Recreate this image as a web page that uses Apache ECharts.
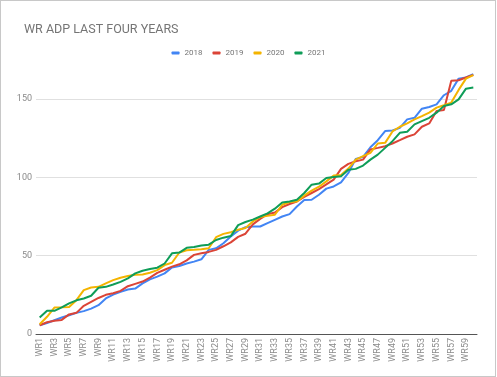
<!DOCTYPE html>
<html>
<head>
<meta charset="utf-8">
<script src="https://cdn.jsdelivr.net/npm/echarts@6/dist/echarts.min.js"></script>
<style>
  html, body { margin: 0; padding: 0; background: #fff; }
  #chart { position: absolute; left: 0; top: 0; width: 497px; height: 377px; }
  #frame { position: absolute; left: 0; top: 0; width: 496px; height: 377px; box-sizing: border-box; border: 1px solid #c8c8c8; pointer-events: none; }
</style>
</head>
<body>
<div id="chart"></div>
<div id="frame"></div>
<script>
var categories = [];
for (var i = 1; i <= 60; i++) categories.push('WR' + i);

var years = ['2018', '2019', '2020', '2021'];
var colors = ['#4285F4', '#DB4437', '#F4B400', '#0F9D58'];

var adp2018 = [5.6, 7, 8.8, 10.5, 12, 13.5, 14.6, 16.2, 18.4, 22.7,
  25.2, 26.9, 28.4, 29, 32.3, 34.9, 36.6, 38.7, 42.5, 43.4,
  45, 46.2, 47.7, 53.7, 54.7, 57.9, 62.2, 66, 68.2, 68.6,
  68.6, 70.8, 72.9, 75, 76.5, 81.4, 85.5, 85.7, 88.9, 92.8,
  94.2, 96.8, 102.8, 111.8, 113, 119.2, 123.7, 129.5, 129.9, 131.6,
  137, 138, 143.8, 144.9, 146.6, 152.4, 155.2, 163, 163.7, 165.8];
var adp2019 = [5.6, 7.5, 8.5, 9, 12.5, 13.5, 18, 20.5, 23, 25,
  26, 27.5, 30.5, 32, 33.5, 36, 39, 41, 43, 44.5,
  47, 50.5, 51.5, 52.4, 53.7, 56, 58.5, 62, 64, 70,
  73.5, 76.5, 77.5, 81, 83, 84.6, 87.5, 90, 92.5, 95.5,
  98.5, 105.4, 108.6, 110.3, 111.3, 117.8, 118.8, 119.9, 121.6, 123.7,
  125.9, 127.4, 132.3, 134.4, 142.3, 143, 161.6, 162, 163.7, 165.4];
var adp2020 = [6.2, 11, 16.9, 17, 17.3, 21.6, 28, 29.7, 30.1, 32.3,
  34.4, 35.9, 37, 37.8, 38, 39.1, 40.8, 44, 45.5, 52,
  53.5, 53.7, 54.1, 54.7, 61.8, 63.9, 65, 66.5, 67.6, 71.8,
  74.6, 75.4, 76.1, 82.5, 84.2, 84.6, 88.3, 91.5, 94, 97.4,
  101.1, 101.5, 105.6, 111.3, 113.5, 115.6, 121.6, 122, 129.3, 132.3,
  134.4, 137, 139.1, 141.3, 144.5, 146, 147.7, 155.8, 163, 165.2];
var adp2021 = [10.5, 14.8, 14.8, 17, 19.5, 21.5, 22.7, 24.4, 29.5, 30.1,
  31.6, 33.3, 35.5, 38.7, 40.4, 41.5, 42.3, 45, 51.5, 52,
  55, 55.5, 56.5, 57, 60, 61.5, 62.5, 69.5, 71.5, 73,
  75, 77, 80, 84, 84.6, 85.7, 90, 95.3, 96, 99.6,
  100.2, 100.7, 104.9, 105.4, 107.5, 111.3, 114.5, 118.8, 123.1, 128.4,
  129.1, 133.8, 135.9, 138, 141.3, 145.5, 146.6, 149.8, 156.6, 157.3];

var seriesData = [adp2018, adp2019, adp2020, adp2021];

var myChart = echarts.init(document.getElementById('chart'));
var option = {
  animation: false,
  color: colors,
  title: {
    text: 'WR ADP LAST FOUR YEARS',
    left: 19,
    top: 18,
    textStyle: { fontFamily: 'Roboto', fontSize: 12.5, fontWeight: 'normal', color: '#757575' }
  },
  legend: {
    data: years,
    top: 44,
    left: 'center',
    icon: 'roundRect',
    itemWidth: 8,
    itemHeight: 3,
    itemGap: 10,
    textStyle: { fontFamily: 'Roboto', fontSize: 8, color: '#757575' }
  },
  grid: { left: 36, right: 20, top: 99, bottom: 43 },
  xAxis: {
    type: 'category',
    data: categories,
    boundaryGap: true,
    axisTick: { show: false },
    axisLine: { lineStyle: { color: '#555', width: 1 } },
    axisLabel: { rotate: 90, interval: 1, fontFamily: 'Roboto', fontSize: 9, color: '#8a8a8a', margin: 4 }
  },
  yAxis: {
    type: 'value',
    min: 0,
    max: 150,
    interval: 50,
    axisLine: { show: false },
    axisTick: { show: false },
    splitLine: { lineStyle: { color: '#e0e0e0', width: 1 } },
    axisLabel: { fontFamily: 'Roboto', fontSize: 9, color: '#8a8a8a', margin: 4 }
  },
  series: years.map(function (y, k) {
    return {
      name: y,
      type: 'line',
      data: seriesData[k],
      clip: false,
      showSymbol: false,
      symbol: 'none',
      lineStyle: { width: 2 }
    };
  })
};

myChart.setOption(option);
window.addEventListener('resize', function () {
  myChart.resize();
});
</script>
</body>
</html>
